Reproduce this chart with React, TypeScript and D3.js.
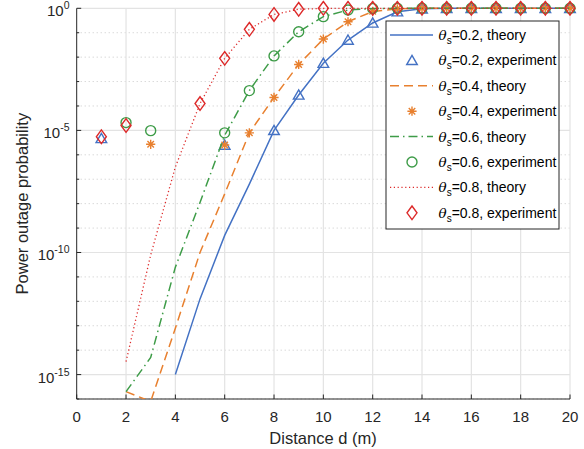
import React from "react";
import * as d3 from "d3";

// distance d (m)
const distances = [1, 2, 3, 4, 5, 6, 7, 8, 9, 10, 11, 12, 13, 14, 15, 16, 17, 18, 19, 20];

// log10 of power outage probability, theory curves (null = not plotted)
const theory02 = [null, null, null, -15.0, -11.9, -9.3, -7.2, -5.0, -3.55, -2.25, -1.3, -0.6, -0.14, -0.02, 0, 0, 0, 0, 0, 0];
const theory04 = [null, -15.7, -16.1, -13.1, -10.0, -7.6, -5.1, -3.65, -2.3, -1.26, -0.55, -0.13, -0.02, 0, 0, 0, 0, 0, 0, 0];
const theory06 = [null, -15.7, -14.3, -10.6, -7.95, -5.2, -3.37, -1.95, -0.96, -0.34, -0.07, -0.01, 0, 0, 0, 0, 0, 0, 0, 0];
const theory08 = [null, -14.47, -10.1, -6.5, -3.9, -2.05, -0.86, -0.25, -0.04, -0.005, 0, 0, 0, 0, 0, 0, 0, 0, 0, 0];

// log10 of power outage probability, experiment points
const exp02 = [-5.33, null, null, null, null, -5.6, null, -5.0, -3.55, -2.25, -1.3, -0.6, -0.14, -0.02, 0, 0, 0, 0, 0, 0];
const exp04 = [null, null, -5.57, null, null, -5.6, -5.1, -3.65, -2.3, -1.26, -0.55, -0.12, -0.02, 0, 0, 0, 0, 0, 0, 0];
const exp06 = [null, -4.68, -5.01, null, null, -5.1, -3.37, -1.95, -0.96, -0.34, -0.07, -0.01, 0, 0, 0, 0, 0, 0, 0, 0];
const exp08 = [-5.26, -4.8, null, null, -3.9, -2.05, -0.86, -0.25, -0.04, 0, 0, 0, 0, 0, 0, 0, 0, 0, 0, 0];

const thetaLabels = ["0.2", "0.4", "0.6", "0.8"];
const xTicks = [0, 2, 4, 6, 8, 10, 12, 14, 16, 18, 20];
const yMajorExps = [0, -5, -10, -15];
const yMinorExps = d3.range(-16, 1);

const xLabel = "Distance d (m)";
const yLabel = "Power outage probability";

const colors = ["#4472C4", "#E8802F", "#3E9C48", "#DD2A2A"];
const dashes = [null, "9 5", "9 4 1.5 4", "1.2 2.6"];
const markerTypes = ["triangle", "asterisk", "circle", "diamond"];

const W = 584, H = 449;
const L = 76.7, R = 570, T = 8.3, B = 399;
const FONT = "'Liberation Sans', Arial, Helvetica, sans-serif";

function Marker({ type, x, y, color }: { type: string; x: number; y: number; color: string }) {
  const sw = 1.4;
  if (type === "triangle") {
    const w = 5.3, h = 9.2;
    const p = `M${x},${y - h * 0.55} L${x + w},${y + h * 0.45} L${x - w},${y + h * 0.45} Z`;
    return <path d={p} fill="none" stroke={color} strokeWidth={sw} strokeLinejoin="miter" />;
  }
  if (type === "circle") {
    return <circle cx={x} cy={y} r={5} fill="none" stroke={color} strokeWidth={sw} />;
  }
  if (type === "diamond") {
    const w = 5, h = 6.8;
    const p = `M${x},${y - h} L${x + w},${y} L${x},${y + h} L${x - w},${y} Z`;
    return <path d={p} fill="none" stroke={color} strokeWidth={sw} />;
  }
  // asterisk
  const r = 4.6, q = r * 0.707;
  const p = `M${x - r},${y} L${x + r},${y} M${x},${y - r} L${x},${y + r} M${x - q},${y - q} L${x + q},${y + q} M${x - q},${y + q} L${x + q},${y - q}`;
  return <path d={p} fill="none" stroke={color} strokeWidth={sw} />;
}

export default function App() {
  const x = d3.scaleLinear().domain([0, 20]).range([L, R]);
  const y = d3.scaleLog().domain([1e-16, 1]).range([B, T]);

  const theories = [theory02, theory04, theory06, theory08];
  const exps = [exp02, exp04, exp06, exp08];

  const line = d3
    .line<[number, number | null]>()
    .defined((p) => p[1] !== null)
    .x((p) => x(p[0]))
    .y((p) => y(Math.pow(10, p[1] as number)));

  const legendX0 = 386, legendY0 = 21, legendX1 = 559, legendY1 = 229;
  const rowH = 25.4;
  const rowY0 = 35;

  return (
    <svg width={W} height={H} style={{ position: "absolute", left: 0, top: 0, background: "#fff" }} fontFamily={FONT}>
      <defs>
        <clipPath id="plotclip">
          <rect x={L} y={T - 8} width={R - L + 8} height={B - T + 8} />
        </clipPath>
      </defs>
      <rect x={0} y={0} width={W} height={H} fill="#fff" />
      {/* grid */}
      {yMinorExps.filter((e) => !yMajorExps.includes(e)).map((e) => (
        <line key={"mg" + e} x1={L} x2={R} y1={y(Math.pow(10, e))} y2={y(Math.pow(10, e))} stroke="#c8c8c8" strokeWidth={1} strokeDasharray="1 3" />
      ))}
      {xTicks.filter((t) => t !== 0).map((t) => (
        <line key={"vg" + t} x1={x(t)} x2={x(t)} y1={T} y2={B} stroke="#e3e3e3" strokeWidth={1.2} />
      ))}
      {yMajorExps.map((e) => (
        <line key={"hg" + e} x1={L} x2={R} y1={y(Math.pow(10, e))} y2={y(Math.pow(10, e))} stroke="#e3e3e3" strokeWidth={1.2} />
      ))}
      {/* axes */}
      <line x1={L} x2={R} y1={B} y2={B} stroke="#262626" strokeWidth={1} />
      <line x1={L} x2={L} y1={T} y2={B} stroke="#262626" strokeWidth={1} />
      {xTicks.map((t) => (
        <g key={"xt" + t}>
          <line x1={x(t)} x2={x(t)} y1={B} y2={B - 4.5} stroke="#262626" strokeWidth={1} />
          <text x={x(t)} y={421.5} fontSize={15} textAnchor="middle" fill="#262626">{t}</text>
        </g>
      ))}
      {yMinorExps.map((e) => (
        <line key={"yt" + e} x1={L} x2={L + (yMajorExps.includes(e) ? 4.5 : 2.5)} y1={y(Math.pow(10, e))} y2={y(Math.pow(10, e))} stroke="#262626" strokeWidth={1} />
      ))}
      {yMajorExps.map((e) => (
        <text key={"yl" + e} x={69.5} y={y(Math.pow(10, e)) + 8} fontSize={15} textAnchor="end" fill="#262626">
          10<tspan fontSize={10.5} dy={-7}>{e}</tspan>
        </text>
      ))}
      <text x={323} y={444} fontSize={16.5} textAnchor="middle" fill="#262626">{xLabel}</text>
      <text transform={`translate(27.5,${(T + B) / 2}) rotate(-90)`} fontSize={16.5} textAnchor="middle" fill="#262626">{yLabel}</text>

      {/* series */}
      <g clipPath="url(#plotclip)">
        {theories.map((s, i) => (
          <g key={"s" + i}>
            <path
              d={line(distances.map((dd, k) => [dd, s[k]] as [number, number | null])) || ""}
              fill="none"
              stroke={colors[i]}
              strokeWidth={i === 3 ? 1.3 : 1.5}
              strokeDasharray={dashes[i] || undefined}
            />
            {exps[i].map((v, k) =>
              v === null ? null : (
                <Marker key={k} type={markerTypes[i]} x={x(distances[k])} y={y(Math.pow(10, v))} color={colors[i]} />
              )
            )}
          </g>
        ))}
      </g>

      {/* legend */}
      <rect x={legendX0} y={legendY0} width={legendX1 - legendX0} height={legendY1 - legendY0} fill="#fff" stroke="#262626" strokeWidth={1} />
      {thetaLabels.map((th, i) => {
        const yTheory = rowY0 + 2 * i * rowH;
        const yExp = rowY0 + (2 * i + 1) * rowH;
        const label = (yy: number, kind: string) => (
          <text x={438.5} y={yy + 5} fontSize={14} fill="#000">
            <tspan fontStyle="italic" fontFamily="'DejaVu Serif', 'Liberation Serif', serif" fontSize={13.5}>θ</tspan>
            <tspan fontSize={10} dy={4}>s</tspan>
            <tspan dy={-4}>{`=${th}, ${kind}`}</tspan>
          </text>
        );
        return (
          <g key={"lg" + i}>
            <line x1={390} x2={433} y1={yTheory} y2={yTheory} stroke={colors[i]} strokeWidth={i === 3 ? 1.3 : 1.5} strokeDasharray={dashes[i] || undefined} />
            {label(yTheory, "theory")}
            <Marker type={markerTypes[i]} x={412} y={yExp} color={colors[i]} />
            {label(yExp, "experiment")}
          </g>
        );
      })}
    </svg>
  );
}
